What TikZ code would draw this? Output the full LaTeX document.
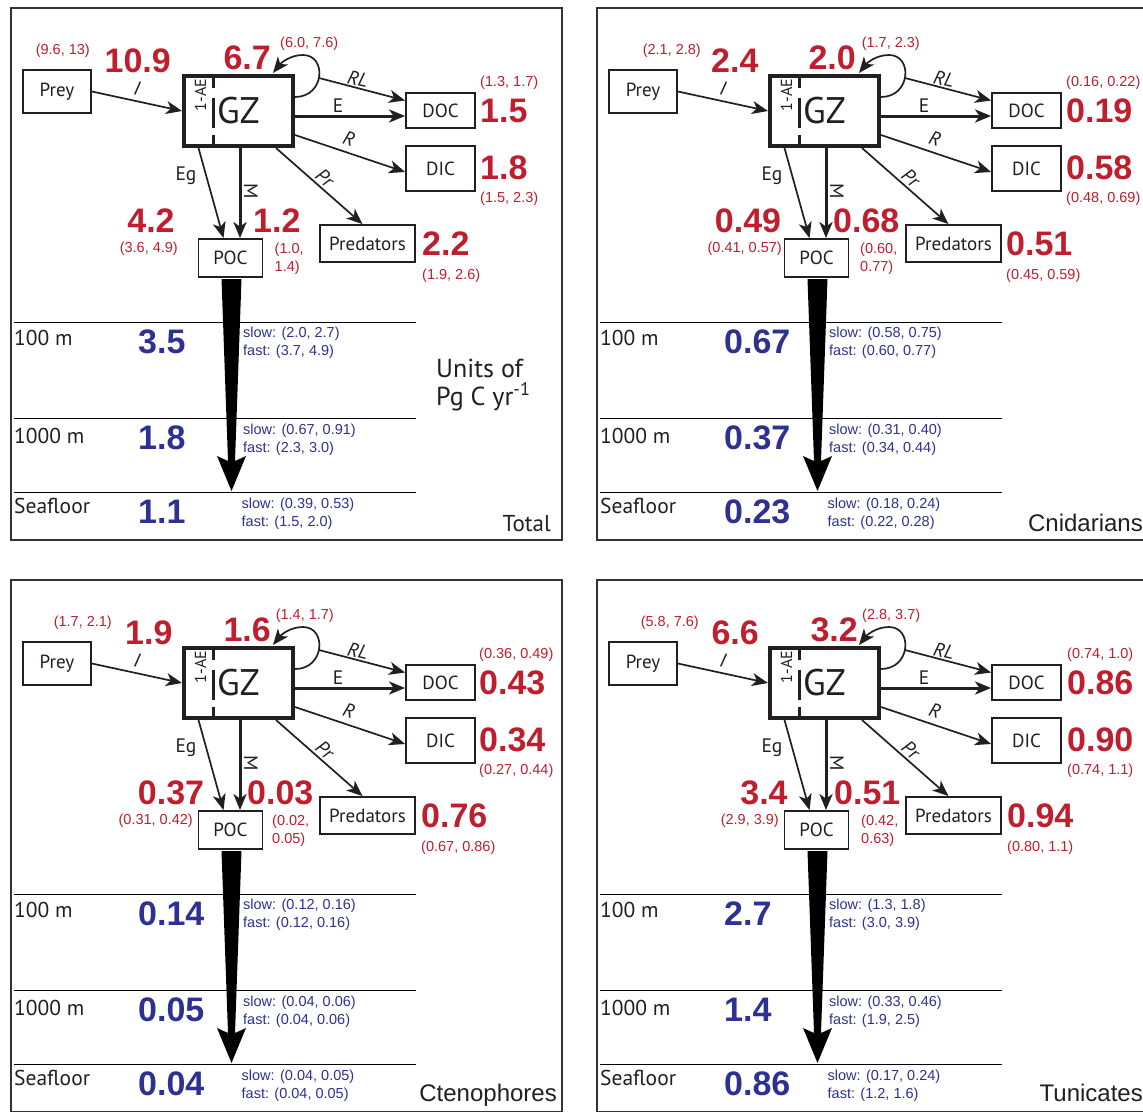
\documentclass[tikz,border=0pt]{standalone}
\usepackage{fontspec}
\setmainfont{PT Sans}
\newfontfamily\hv{Liberation Sans}
\usetikzlibrary{arrows.meta,calc}
\definecolor{nred}{RGB}{190,30,45}
\definecolor{nblue}{RGB}{46,49,146}
\definecolor{ink}{RGB}{35,31,32}
\tikzset{
 box/.style={draw=ink, line width=1.8pt, inner sep=0pt, font=\fontsize{19}{22}\selectfont, text=ink},
 gzbox/.style={draw=ink, line width=4pt, inner sep=0pt, minimum width=109pt, minimum height=70pt, font=\fontsize{37}{40}\selectfont, text=ink},
 aelab/.style={rotate=90, inner sep=0pt, font=\fontsize{16}{18}\selectfont, text=ink},
 flow/.style={draw=ink, line width=1.7pt, -{Stealth[length=16pt,width=13pt,inset=4.5pt]}},
 bigflow/.style={flow, line width=3pt},
 flab/.style={font=\fontsize{19.5}{22}\selectfont, text=ink, inner sep=0pt},
 iflab/.style={flab, font=\fontsize{19.5}{22}\selectfont\itshape},
 bignum/.style={font=\hv\bfseries\fontsize{34}{40}\selectfont, text=nred, inner sep=0pt},
 smallint/.style={font=\hv\fontsize{14.5}{18}\selectfont, text=nred, inner sep=0pt},
 bluenum/.style={font=\hv\bfseries\fontsize{34}{40}\selectfont, text=nblue, inner sep=0pt, anchor=base west},
 bluesm/.style={font=\hv\fontsize{14.5}{18}\selectfont, text=nblue, inner sep=0pt, anchor=base west},
 depth/.style={font=\fontsize{21.5}{24}\selectfont, text=ink, inner sep=0pt, anchor=base west},
 unitlab/.style={font=\fontsize{26}{28}\selectfont, text=ink, inner sep=0pt, anchor=base west},
 titlelab/.style={text=ink, inner sep=0pt, anchor=base east},
 frame/.style={draw=black!80, line width=2pt},
 depthline/.style={draw=black, line width=1pt},
}
\newcommand\drawpanel{%
 \draw[frame] (11,8) rectangle (562,540);
 % boxes
 \node[box, minimum width=68pt, minimum height=43pt] (prey) at (57,91.5) {Prey};
 \node[gzbox] (gz) at (238.5,111) {GZ};
 \draw[ink, line width=2.5pt] (213.3,78) -- (213.3,88) (213.3,98) -- (213.3,128) (213.3,135) -- (213.3,146);
 \node[aelab] (ae) at (200.5,95) {1-AE};
 \node[box, minimum width=69pt, minimum height=35pt] (doc) at (440.5,110.5) {DOC};
 \node[box, minimum width=69pt, minimum height=45pt] (dic) at (440.5,168.5) {DIC};
 \node[box, minimum width=95pt, minimum height=37pt] (pred) at (367.5,243.5) {Predators};
 \node[box, minimum width=64pt, minimum height=38pt] (poc) at (230.5,258) {POC};
 % flows
 \draw[flow] (prey.east) -- (gz.west);
 \draw[flow] ($(gz.east)+(0,-14)$) .. controls +(30,0) and +(24,0) .. ($(gz.east)+(8,-56)$) .. controls +(-13,0) and +(8,-10) .. ($(gz.north)+(34.5,-1)$);
 \coordinate (rl0) at ($(gz.east)+(24,-33)$);
 \draw[flow] (rl0) -- ($(doc.west)+(0,-10)$);
 \draw[bigflow] ($(gz.east)+(0,5)$) coordinate (e0) -- (e0 -| doc.west);
 \draw[flow] ($(gz.east)+(0,24)$) -- ($(dic.west)+(0,3.5)$);
 \draw[flow] ($(gz.south)+(37.5,0)$) -- ($(pred.north)+(-5,0)$);
 \draw[flow] ($(gz.south)+(-40,0)$) -- ($(poc.north)+(-7,0)$);
 \draw[bigflow] ($(gz.south)+(1.5,0)$) coordinate (m0) -- (m0 |- poc.north);
 % flow labels
 \node[iflab, rotate=-12] (lI) at (137,88) {I};
 \node[iflab, rotate=-13] (lRL) at (358,79) {RL};
 \node[flab] (lE) at (338,106) {E};
 \node[iflab, rotate=-18] (lR) at (349,139) {R};
 \node[iflab, rotate=-41] (lPr) at (325,178) {Pr};
 \node[flab, anchor=base] (lEg) at (186,180) {Eg};
 \node[flab, rotate=-90] (lM) at (251,191) {M};
 % sinking flux
 \fill[black] (221.5,279) -- (241.5,279) -- (235,461) -- (246,456) -- (231.5,491) -- (217,456) -- (228,461) -- cycle;
 \draw[depthline] (14,322) -- (416,322);
 \draw[depthline] (14,418) -- (416,418);
 \draw[depthline] (14,492) -- (416,492);
 % red numbers
 \node[smallint, anchor=base east] (iint) at (\vIintR,54) {\vIint};
 \node[bignum, anchor=base east] (inum) at (\vIR,72) {\vI};
 \node[bignum, anchor=base east] (snum) at (\vSelfR,69) {\vSelf};
 \node[smallint, anchor=base west] (sint) at (\vSelfIntL,47) {\vSelfInt};
 \node[smallint, anchor=base west] (dint) at (\vDocL,86) {\vDOCint};
 \node[bignum, anchor=base west] (dnum) at (\vDocL,122) {\vDOC};
 \node[bignum, anchor=base west] (cnum) at (\vDocL,179) {\vDIC};
 \node[smallint, anchor=base west] (cint) at (\vDocL,202) {\vDICint};
 \node[bignum, anchor=base west] (pnum) at (\vPredL,255) {\vPred};
 \node[smallint, anchor=base west] (pint) at (\vPredL,279) {\vPredInt};
 \node[bignum, anchor=base] (egnum) at (\vEgC,232) {\vEg};
 \node[smallint, anchor=base east] (egint) at (\vEgIntR,252) {\vEgInt};
 \node[bignum, anchor=base west] (mnum) at (\vML,232) {\vM};
 \node[smallint, anchor=base west] (minta) at (\vMintL,253) {\vMintA};
 \node[smallint, anchor=base west] (mintb) at (\vMintL,271) {\vMintB};
 % depths
 \node[depth] (d1) at (14,345) {100 m};
 \node[depth] (d2) at (14,443) {1000 m};
 \node[depth] (d3) at (14,513) {Seafloor};
 \node[bluenum] (b1) at (138,353) {\vHa};
 \node[bluenum] (b2) at (138,449) {\vHb};
 \node[bluenum] (b3) at (138,523) {\vHc};
 \node[bluesm] (b1s) at (243,337) {slow: \vHaS};
 \node[bluesm] (b1f) at (243,355) {fast: \vHaF};
 \node[bluesm] (b2s) at (243,434) {slow: \vHbS};
 \node[bluesm] (b2f) at (243,452) {fast: \vHbF};
 \node[bluesm] (b3s) at (241.5,508) {slow: \vHcS};
 \node[bluesm] (b3f) at (241.5,526) {fast: \vHcF};
 \node[titlelab, font=\vTitleFont] (title) at (\vTitleR,\vTitleY) {\vTitle};
}
\begin{document}
\begin{tikzpicture}[x=1pt,y=-1pt]
\clip (0,0) rectangle (1143,1111);
\fill[white] (0,0) rectangle (1143,1111);
% ---------- Total ----------
\begin{scope}[name prefix=tl-]
\def\vIint{(9.6, 13)}\def\vIintR{90}
\def\vI{10.9}\def\vIR{171}
\def\vSelf{6.7}\def\vSelfR{271}
\def\vSelfInt{(6.0, 7.6)}\def\vSelfIntL{280}
\def\vDOCint{(1.3, 1.7)}\def\vDOC{1.5}\def\vDIC{1.8}\def\vDICint{(1.5, 2.3)}\def\vDocL{480}
\def\vPred{2.2}\def\vPredInt{(1.9, 2.6)}\def\vPredL{422}
\def\vEg{4.2}\def\vEgC{151}\def\vEgInt{(3.6, 4.9)}\def\vEgIntR{178}
\def\vM{1.2}\def\vML{253}\def\vMintA{(1.0,}\def\vMintB{1.4)}\def\vMintL{274.5}
\def\vHa{3.5}\def\vHaS{(2.0, 2.7)}\def\vHaF{(3.7, 4.9)}
\def\vHb{1.8}\def\vHbS{(0.67, 0.91)}\def\vHbF{(2.3, 3.0)}
\def\vHc{1.1}\def\vHcS{(0.39, 0.53)}\def\vHcF{(1.5, 2.0)}
\def\vTitle{Total}\def\vTitleR{551}\def\vTitleY{531}\def\vTitleFont{\fontsize{23}{26}\selectfont}
\drawpanel
\node[unitlab] (units1) at (436,377) {Units of};
\node[unitlab] (units2) at (436,405) {Pg C yr\textsuperscript{-1}};
\end{scope}
% ---------- Cnidarians ----------
\begin{scope}[shift={(586,0)}, name prefix=tr-]
\def\vIint{(2.1, 2.8)}\def\vIintR{115}
\def\vI{2.4}\def\vIR{172.6}
\def\vSelf{2.0}\def\vSelfR{270}
\def\vSelfInt{(1.7, 2.3)}\def\vSelfIntL{275.6}
\def\vDOCint{(0.16, 0.22)}\def\vDOC{0.19}\def\vDIC{0.58}\def\vDICint{(0.48, 0.69)}\def\vDocL{480}
\def\vPred{0.51}\def\vPredInt{(0.45, 0.59)}\def\vPredL{420}
\def\vEg{0.49}\def\vEgC{162}\def\vEgInt{(0.41, 0.57)}\def\vEgIntR{196}
\def\vM{0.68}\def\vML{247}\def\vMintA{(0.60,}\def\vMintB{0.77)}\def\vMintL{274}
\def\vHa{0.67}\def\vHaS{(0.58, 0.75)}\def\vHaF{(0.60, 0.77)}
\def\vHb{0.37}\def\vHbS{(0.31, 0.40)}\def\vHbF{(0.34, 0.44)}
\def\vHc{0.23}\def\vHcS{(0.18, 0.24)}\def\vHcF{(0.22, 0.28)}
\def\vTitle{Cnidarians}\def\vTitleR{557}\def\vTitleY{531}\def\vTitleFont{\hv\fontsize{24}{27}\selectfont}
\drawpanel
\end{scope}
% ---------- Ctenophores ----------
\begin{scope}[shift={(0,572)}, name prefix=bl-]
\def\vIint{(1.7, 2.1)}\def\vIintR{112}
\def\vI{1.9}\def\vIR{172.7}
\def\vSelf{1.6}\def\vSelfR{271}
\def\vSelfInt{(1.4, 1.7)}\def\vSelfIntL{275.6}
\def\vDOCint{(0.36, 0.49)}\def\vDOC{0.43}\def\vDIC{0.34}\def\vDICint{(0.27, 0.44)}\def\vDocL{479}
\def\vPred{0.76}\def\vPredInt{(0.67, 0.86)}\def\vPredL{421}
\def\vEg{0.37}\def\vEgC{171}\def\vEgInt{(0.31, 0.42)}\def\vEgIntR{193}
\def\vM{0.03}\def\vML{247}\def\vMintA{(0.02,}\def\vMintB{0.05)}\def\vMintL{272}
\def\vHa{0.14}\def\vHaS{(0.12, 0.16)}\def\vHaF{(0.12, 0.16)}
\def\vHb{0.05}\def\vHbS{(0.04, 0.06)}\def\vHbF{(0.04, 0.06)}
\def\vHc{0.04}\def\vHcS{(0.04, 0.05)}\def\vHcF{(0.04, 0.05)}
\def\vTitle{Ctenophores}\def\vTitleR{557}\def\vTitleY{529}\def\vTitleFont{\hv\fontsize{24}{27}\selectfont}
\drawpanel
\end{scope}
% ---------- Tunicates ----------
\begin{scope}[shift={(586,572)}, name prefix=br-]
\def\vIint{(5.8, 7.6)}\def\vIintR{113}
\def\vI{6.6}\def\vIR{173}
\def\vSelf{3.2}\def\vSelfR{272}
\def\vSelfInt{(2.8, 3.7)}\def\vSelfIntL{276}
\def\vDOCint{(0.74, 1.0)}\def\vDOC{0.86}\def\vDIC{0.90}\def\vDICint{(0.74, 1.1)}\def\vDocL{481}
\def\vPred{0.94}\def\vPredInt{(0.80, 1.1)}\def\vPredL{421}
\def\vEg{3.4}\def\vEgC{178}\def\vEgInt{(2.9, 3.9)}\def\vEgIntR{193}
\def\vM{0.51}\def\vML{248}\def\vMintA{(0.42,}\def\vMintB{0.63)}\def\vMintL{275}
\def\vHa{2.7}\def\vHaS{(1.3, 1.8)}\def\vHaF{(3.0, 3.9)}
\def\vHb{1.4}\def\vHbS{(0.33, 0.46)}\def\vHbF{(1.9, 2.5)}
\def\vHc{0.86}\def\vHcS{(0.17, 0.24)}\def\vHcF{(1.2, 1.6)}
\def\vTitle{Tunicates}\def\vTitleR{557}\def\vTitleY{529}\def\vTitleFont{\hv\fontsize{24}{27}\selectfont}
\drawpanel
\end{scope}
\end{tikzpicture}
\end{document}
